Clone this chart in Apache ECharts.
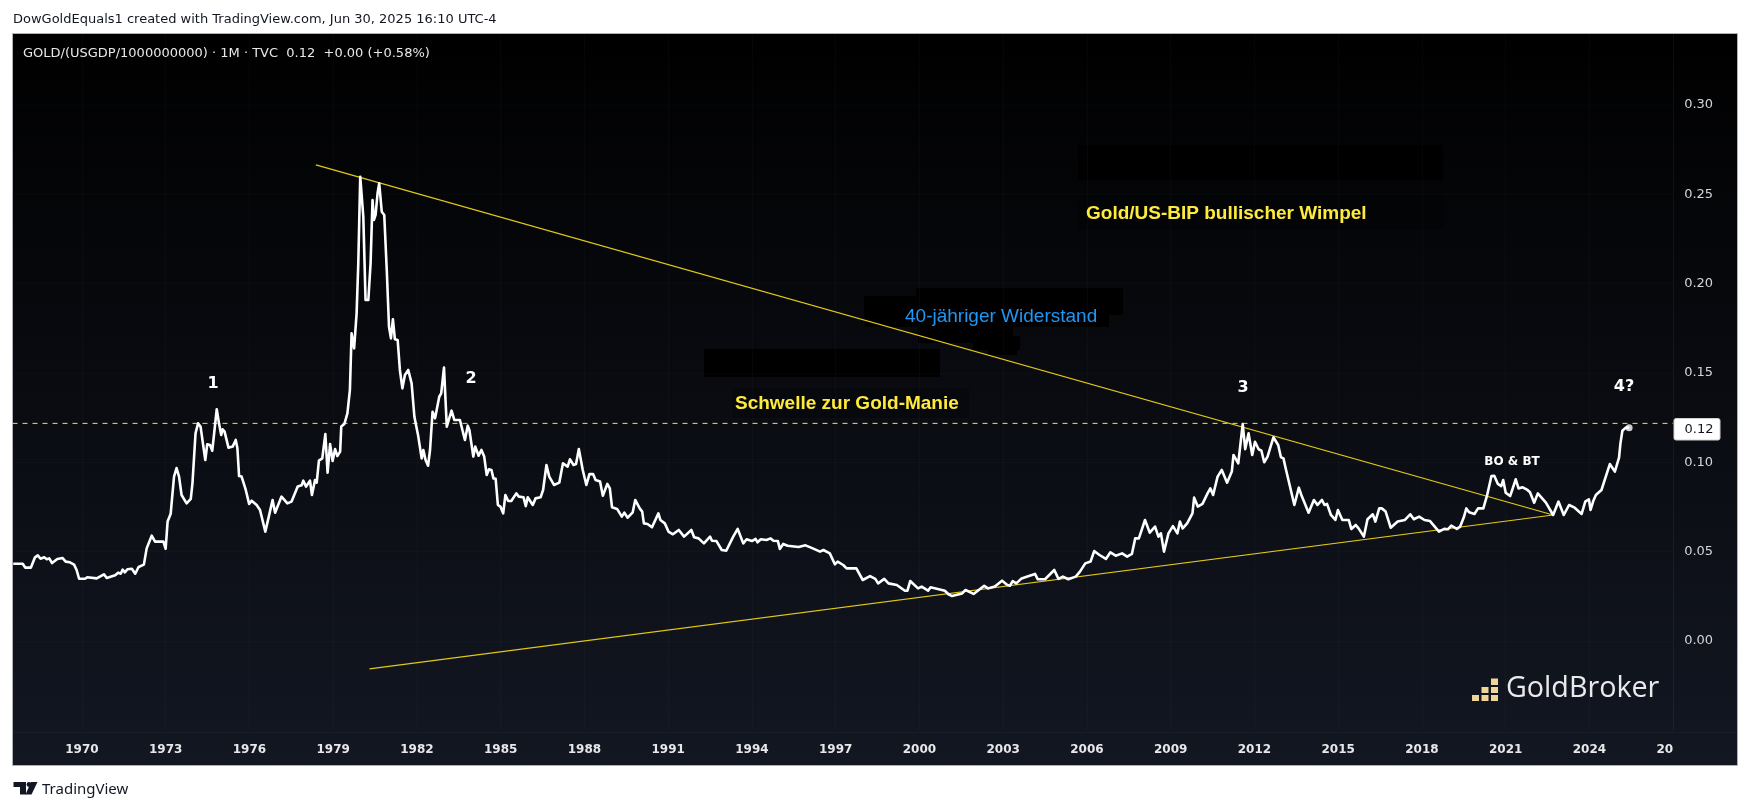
<!DOCTYPE html>
<html>
<head>
<meta charset="utf-8">
<title>GOLD/(USGDP/1000000000)</title>
<style>
html, body { margin: 0; padding: 0; background: #fff; }
#chart { width: 1751px; height: 810px; }
</style>
<script src="https://cdn.jsdelivr.net/npm/echarts@6/dist/echarts.min.js"></script>
</head>
<body>
<div id="chart"></div>
<script>
// monthly ratio, [decimal year, value]
var sixties = [[1967.54,.0432],[1967.88,.0432],[1967.97,.0410],[1968.17,.0410],[1968.32,.0468],[1968.42,.0479],[1968.52,.0460],[1968.65,.0468],[1968.74,.0457],[1968.83,.0462],[1968.93,.0436],[1969.12,.0459],[1969.31,.0464],[1969.42,.0444],[1969.57,.0440],[1969.72,.0427],[1969.81,.0397],[1969.90,.0348]];
var seventies = [[1970.11,.0348],[1970.19,.0356],[1970.53,.0350],[1970.79,.0373],[1970.89,.0352],[1971.19,.0367],[1971.30,.0382],[1971.39,.0376],[1971.46,.0399],[1971.54,.0384],[1971.63,.0401],[1971.79,.0404],[1971.82,.0412],[1971.91,.0376],[1972.03,.0414],[1972.22,.0427],[1972.32,.0518],[1972.50,.0589],[1972.62,.0556],[1972.92,.0556],[1973.00,.0516],[1973.07,.0668],[1973.18,.0712],[1973.24,.0718],
[1973.30,.0920],[1973.39,.0968],[1973.48,.0920],[1973.57,.0817],[1973.75,.0770],[1973.90,.0795],[1973.96,.0882],[1974.07,.1162],[1974.16,.1218],[1974.25,.1200],[1974.42,.1013],[1974.49,.1101],[1974.59,.1097],[1974.67,.1065],[1974.83,.1297],[1974.91,.1218],[1974.99,.1153],[1975.04,.1185],[1975.11,.1172],[1975.25,.1082],[1975.40,.1088],[1975.51,.1125],[1975.57,.1078],[1975.63,.0923],[1975.72,.0920],[1975.87,.0845],[1975.99,.0767],
[1976.08,.0785],[1976.26,.0761],[1976.38,.0733],[1976.57,.0612],[1976.68,.0686],[1976.83,.0789],[1976.92,.0718],[1976.98,.0718],[1977.15,.0808],[1977.36,.0770],[1977.51,.0780],[1977.73,.0864],[1977.87,.0871],[1977.93,.0897],[1978.03,.0864],[1978.17,.0897],[1978.24,.0817],[1978.35,.0901],[1978.41,.0886],[1978.49,.1009],[1978.61,.1022],[1978.72,.1158],[1978.80,.0942],[1978.89,.1102],[1978.98,.1007],
[1979.07,.1074],[1979.15,.1035],[1979.25,.1060],[1979.29,.1200],[1979.40,.1214],[1979.51,.1274],[1979.60,.1405],[1979.66,.1722],[1979.75,.1638],[1979.84,.1834],[1979.90,.2114],[1979.97,.2599]];
var eighties = [[1980.08,.2375],[1980.16,.1909],[1980.26,.1909],[1980.34,.2114],[1980.41,.2469],[1980.46,.2357],[1980.52,.2385],[1980.59,.2506],[1980.65,.2562],[1980.74,.2403],[1980.83,.2385],[1980.92,.2077],[1981.00,.1759],[1981.07,.1694],[1981.14,.1801],[1981.21,.1689],[1981.31,.1685],[1981.39,.1517],[1981.48,.1414],[1981.57,.1489],[1981.69,.1517],[1981.81,.1442],[1981.91,.1255],
[1982.05,.1144],[1982.17,.1022],[1982.23,.1069],[1982.31,.1013],[1982.40,.0981],[1982.47,.1069],[1982.56,.1283],[1982.65,.1246],[1982.80,.1367],[1982.87,.1386],[1982.97,.1530],[1983.07,.1200],[1983.24,.1289],[1983.34,.1237],[1983.54,.1237],[1983.72,.1125],[1983.82,.1205],[1983.88,.1181],[1984.02,.1032],[1984.09,.1088],[1984.21,.1037],
[1984.31,.1069],[1984.41,.1032],[1984.50,.0929],[1984.58,.0961],[1984.67,.0957],[1984.74,.0910],[1984.82,.0908],[1984.90,.0761],[1984.99,.0752],[1985.09,.0714],[1985.17,.0817],[1985.27,.0783],[1985.38,.0783],[1985.56,.0826],[1985.65,.0808],[1985.82,.0804],[1985.90,.0755],[1985.97,.0804],
[1986.15,.0761],[1986.25,.0798],[1986.43,.0804],[1986.52,.0845],[1986.64,.0985],[1986.74,.0920],[1986.91,.0873],[1987.10,.0886],[1987.23,.0994],[1987.40,.0976],[1987.48,.1017],[1987.61,.0985],[1987.70,.0990],[1987.80,.1074],[1987.94,.0957],
[1988.07,.0873],[1988.18,.0934],[1988.31,.0934],[1988.40,.0901],[1988.56,.0892],[1988.66,.0813],[1988.82,.0879],[1988.91,.0854],[1988.99,.0748],[1989.17,.0739],[1989.34,.0696],[1989.43,.0718],[1989.55,.0690],[1989.73,.0720],[1989.82,.0789],[1989.98,.0742]];
var nineties = [[1990.07,.0724],[1990.13,.0658],[1990.26,.0655],[1990.42,.0636],[1990.65,.0714],[1990.72,.0677],[1990.88,.0658],[1991.01,.0612],[1991.17,.0597],[1991.38,.0621],[1991.57,.0584],[1991.83,.0621],[1991.93,.0580],[1992.09,.0574],[1992.28,.0546],[1992.34,.0546],[1992.50,.0584],[1992.57,.0561],[1992.73,.0559],[1992.92,.0509],[1993.08,.0505],[1993.33,.0584],[1993.39,.0584],[1993.49,.0627],[1993.69,.0546],[1993.81,.0569],
[1994.00,.0559],[1994.13,.0571],[1994.20,.0552],[1994.32,.0569],[1994.52,.0565],[1994.67,.0574],[1994.77,.0561],[1994.93,.0559],[1995.00,.0515],[1995.12,.0543],[1995.28,.0533],[1995.67,.0526],[1995.92,.0535],[1996.18,.0518],[1996.44,.0500],[1996.56,.0509],[1996.79,.0490],[1996.97,.0429],[1997.07,.0444],[1997.27,.0425],[1997.39,.0406],[1997.74,.0406],[1997.97,.0341],
[1998.23,.0363],[1998.42,.0347],[1998.52,.0322],[1998.74,.0347],[1998.89,.0322],[1999.19,.0313],[1999.48,.0281],[1999.57,.0281],[1999.67,.0335],[1999.95,.0294]];
var noughties = [[2000.08,.0304],[2000.31,.0281],[2000.40,.0300],[2000.91,.0281],[2001.04,.0261],[2001.17,.0251],[2001.53,.0266],[2001.65,.0285],[2001.94,.0263],[2002.32,.0309],[2002.45,.0294],[2002.70,.0304],[2002.96,.0337],[2003.15,.0313],[2003.24,.0309],[2003.34,.0335],[2003.47,.0322],[2003.66,.0350],[2003.92,.0363],
[2004.14,.0375],[2004.24,.0345],[2004.50,.0345],[2004.83,.0397],[2004.98,.0347],[2005.14,.0360],[2005.33,.0345],[2005.60,.0360],[2005.75,.0388],[2005.94,.0434],[2006.13,.0444],[2006.26,.0503],[2006.45,.0481],[2006.52,.0490],[2006.68,.0459],[2006.84,.0496],[2007.03,.0477],[2007.26,.0490],[2007.44,.0472],[2007.61,.0487],[2007.73,.0574],[2007.86,.0574],
[2008.08,.0677],[2008.25,.0606],[2008.44,.0640],[2008.56,.0584],[2008.65,.0602],[2008.76,.0500],[2008.92,.0602],[2009.08,.0643],[2009.24,.0602],[2009.33,.0668],[2009.43,.0630],[2009.59,.0658],[2009.78,.0714],[2009.84,.0802],[2009.97,.0752]];
var tens = [[2010.14,.0767],[2010.32,.0826],[2010.42,.0854],[2010.52,.0817],[2010.68,.0920],[2010.83,.0957],[2011.02,.0886],[2011.19,.0948],[2011.25,.1041],[2011.42,.0994],[2011.58,.1214],[2011.67,.1074],[2011.79,.1162],[2011.92,.1041],[2012.02,.1115],[2012.15,.1073],[2012.25,.1065],[2012.35,.1000],[2012.47,.1032],[2012.68,.1140],[2012.85,.1097],[2012.95,.1028],[2013.04,.1022],[2013.11,.0972],[2013.17,.0979],[2013.43,.0761],[2013.59,.0858],[2013.68,.0817],[2013.75,.0817],[2013.94,.0718],
[2014.13,.0789],[2014.26,.0761],[2014.42,.0789],[2014.51,.0761],[2014.60,.0767],[2014.74,.0705],[2014.90,.0677],[2014.99,.0733],[2015.15,.0677],[2015.38,.0677],[2015.47,.0627],[2015.63,.0649],[2015.73,.0630],[2015.92,.0584],[2016.05,.0681],[2016.24,.0709],[2016.33,.0668],[2016.47,.0742],[2016.56,.0742],[2016.70,.0724],[2016.88,.0634],[2017.13,.0668],[2017.39,.0677],[2017.45,.0668],[2017.58,.0709],[2017.71,.0681],[2017.90,.0696],
[2018.09,.0677],[2018.29,.0671],[2018.61,.0612],[2018.80,.0627],[2018.93,.0625],[2019.05,.0645],[2019.25,.0627],[2019.37,.0640],[2019.50,.0692],[2019.59,.0742],[2019.69,.0720],[2019.88,.0711]];
var twenties = [[2020.01,.0742],[2020.20,.0742],[2020.33,.0813],[2020.49,.0923],[2020.59,.0925],[2020.72,.0879],[2020.84,.0867],[2020.91,.0901],[2021.00,.0830],[2021.16,.0811],[2021.36,.0905],[2021.46,.0854],[2021.61,.0860],[2021.78,.0845],[2021.87,.0832],[2022.02,.0774],[2022.15,.0826],[2022.44,.0774],[2022.70,.0705],[2022.89,.0780],[2023.08,.0705],[2023.27,.0761],[2023.47,.0746],[2023.53,.0755],[2023.72,.0711],[2023.85,.0780],[2023.98,.0793],
[2024.04,.0733],[2024.13,.0780],[2024.23,.0817],[2024.43,.0845],[2024.73,.0990],[2024.91,.0948],[2025.06,.1026],[2025.11,.1106],[2025.18,.1177],[2025.30,.1194],[2025.42,.1194]];
var goldRatio = [].concat(sixties, seventies, eighties, nineties, noughties, tens, twenties);

// drawn trend lines and the horizontal level
var resistanceLine = [[1978.38,.2665],[2022.70,.0705]];
var supportLine = [[1980.30,-.0157],[2022.70,.0705]];
var maniaLevel = .1218;

var yearTicks = [1970,1973,1976,1979,1982,1985,1988,1991,1994,1997,2000,2003,2006,2009,2012,2015,2018,2021,2024,2027];
var priceTicks = [0,.05,.1,.15,.2,.25,.3];

var headerText = 'DowGoldEquals1 created with TradingView.com, Jun 30, 2025 16:10 UTC-4';
var legendText = 'GOLD/(USGDP/1000000000) · 1M · TVC  0.12  +0.00 (+0.58%)';
var lastLabel = '0.12';

var axisFont = 'DejaVu Sans';
var noteFont = 'Liberation Sans';

function text(x, y, str, font, fill, align) {
    return { type: 'text', x: x, y: y, z: 5, silent: true,
        style: { text: str, font: font, fill: fill, textAlign: align || 'left', textVerticalAlign: 'middle' } };
}
function box(x, y, w, h, fill, z) {
    return { type: 'rect', z: z === undefined ? -5 : z, silent: true, shape: { x: x, y: y, width: w, height: h }, style: { fill: fill } };
}

var chart = echarts.init(document.getElementById('chart'), null, { renderer: 'canvas' });

var option = {
    animation: false,
    backgroundColor: '#ffffff',
    grid: { left: 12.5, right: 77.8, top: 33.66, bottom: 79.8, containLabel: false },
    xAxis: {
        type: 'value', min: 1967.514, max: 2027,
        axisLine: { show: false },
        axisTick: { show: false, customValues: yearTicks },
        splitLine: { show: true, lineStyle: { color: 'rgba(255,255,255,0.025)', width: 1 } },
        axisLabel: {
            customValues: yearTicks, margin: 14, alignMaxLabel: 'right',
            color: '#e8e8ea', fontFamily: axisFont, fontWeight: 'bold', fontSize: 12,
            formatter: function (v) { return v === 2027 ? '20' : String(v); }
        }
    },
    yAxis: {
        type: 'value', position: 'right', min: -.05, max: .34,
        axisLine: { show: false },
        axisTick: { show: false, customValues: priceTicks },
        splitLine: { show: true, lineStyle: { color: 'rgba(255,255,255,0.02)', width: 1 } },
        axisLabel: {
            customValues: priceTicks, margin: 11,
            color: '#d4d5d8', fontFamily: axisFont, fontSize: 13,
            formatter: function (v) { return v.toFixed(2); }
        }
    },
    series: [
        { type: 'line', data: [[1967.514, maniaLevel], [2027, maniaLevel]], symbol: 'none', z: 3, silent: true,
          lineStyle: { color: '#f7e53b', width: 1, type: [5, 5] } },
        { type: 'line', data: resistanceLine, symbol: 'none', z: 3, silent: true, lineStyle: { color: '#e3c916', width: 1.2 } },
        { type: 'line', data: supportLine, symbol: 'none', z: 3, silent: true, lineStyle: { color: '#e3c916', width: 1.2 } },
        { type: 'line', data: goldRatio, symbol: 'none', z: 4, silent: true, lineStyle: { color: '#ffffff', width: 2.6, join: 'round' } },
        { type: 'scatter', data: [goldRatio[goldRatio.length - 1]], symbolSize: 7, z: 5, silent: true, itemStyle: { color: '#ffffff' } }
    ],
    graphic: { elements: [
        // panel with the dark gradient, frame drawn on top of it
        { type: 'rect', z: -10, silent: true, shape: { x: 12.5, y: 33.5, width: 1725, height: 732 },
          style: { stroke: '#b0b2b8', lineWidth: 1,
                   fill: new echarts.graphic.LinearGradient(0, 0, 0, 1, [{ offset: 0, color: '#000000' }, { offset: 1, color: '#131722' }]) } },
        box(13, 732, 1724, 1, 'rgba(255,255,255,0.03)', -4),
        box(1673, 34, 1, 698, 'rgba(255,255,255,0.03)', -4),

        // black patches left over behind the notes
        box(1078, 145, 365, 35, '#000000'),
        box(1078, 195, 366, 35, 'rgba(0,0,0,0.2)'),
        box(916, 288, 207, 27, '#000000'),
        box(864, 296, 52, 31, '#000000'),
        box(904, 302, 205, 25, '#000000'),
        box(918, 327, 95, 16, '#000000'),
        box(973, 336, 47, 14, '#000000'),
        box(988, 348, 29, 7, '#000000'),
        box(704, 349, 236, 28, '#000000'),
        box(732, 388, 237, 30, 'rgba(0,0,0,0.2)'),

        text(13, 20, headerText, '13px ' + axisFont, '#131722'),
        text(23, 54, legendText, '13px ' + axisFont, '#e8e8ea'),

        text(213, 384, '1', 'bold 16px ' + axisFont, '#ffffff', 'center'),
        text(471, 379, '2', 'bold 16px ' + axisFont, '#ffffff', 'center'),
        text(1243, 388, '3', 'bold 16px ' + axisFont, '#ffffff', 'center'),
        text(1624, 387, '4?', 'bold 16px ' + axisFont, '#ffffff', 'center'),
        text(1512, 462, 'BO & BT', 'bold 12px ' + axisFont, '#ffffff', 'center'),

        text(735, 404, 'Schwelle zur Gold-Manie', 'bold 19px ' + noteFont, '#ffeb3b'),
        text(1086, 214, 'Gold/US-BIP bullischer Wimpel', 'bold 19px ' + noteFont, '#ffeb3b'),
        text(905, 317, '40-jähriger Widerstand', '19px ' + noteFont, '#2196f3'),

        // last price pill
        { type: 'rect', z: 5, silent: true, shape: { x: 1674, y: 418.5, width: 46, height: 21.5, r: 2 }, style: { fill: '#ffffff', stroke: '#d0d0d0', lineWidth: 1 } },
        text(1699, 429.5, lastLabel, '13px ' + axisFont, '#131722', 'center'),

        // GoldBroker mark
        box(1472, 695, 7, 6, '#f0d59a', 5),
        box(1481.5, 695, 7, 6, '#f0d59a', 5),
        box(1491, 695, 7, 6, '#f0d59a', 5),
        box(1481.5, 687, 7, 6, '#f0d59a', 5),
        box(1491, 687, 7, 6, '#f0d59a', 5),
        box(1491, 678.5, 7, 6.5, '#f0d59a', 5),
        text(1506, 689, 'GoldBroker', '28.7px "Open Sans"', '#e9eaec'),

        // TradingView mark in the footer
        { type: 'polygon', silent: true, shape: { points: [[13.5,782],[26,782],[26,794.5],[20,794.5],[20,787],[13.5,787]] }, style: { fill: '#131722' } },
        { type: 'circle', silent: true, shape: { cx: 29, cy: 784.5, r: 2.4 }, style: { fill: '#131722' } },
        { type: 'polygon', silent: true, shape: { points: [[31,782],[37.5,782],[31.5,794.5],[25.5,794.5]] }, style: { fill: '#131722' } },
        text(42, 790, 'TradingView', '15px "Noto Sans"', '#131722')
    ] }
};

chart.setOption(option);
</script>
</body>
</html>
